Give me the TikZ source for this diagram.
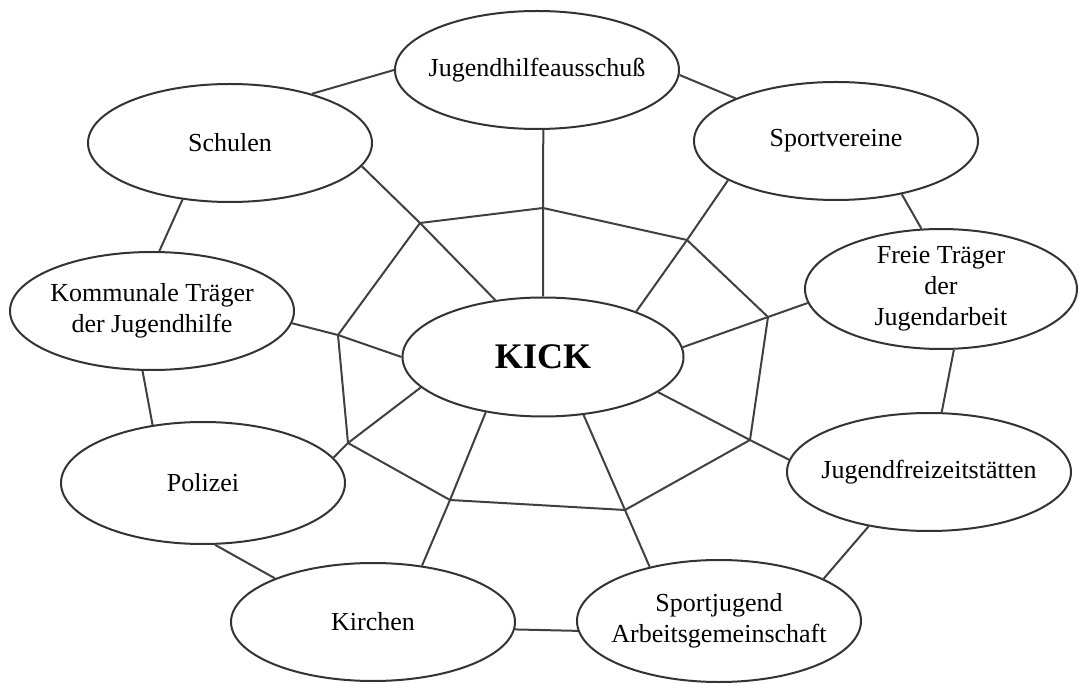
\documentclass[tikz,border=0pt]{standalone}
\usepackage{fontspec}
\setmainfont{Liberation Serif}
\usetikzlibrary{shapes.geometric}

\begin{document}
\begin{tikzpicture}[x=1pt,y=-1pt,
  partner/.style={ellipse,draw=black!80,line width=2pt,minimum width=284pt,minimum height=118pt,inner xsep=-30pt,inner ysep=0pt,align=center,font=\fontsize{26}{31}\selectfont},
  web/.style={draw=black!75,line width=2pt}]
\useasboundingbox (0,0) rectangle (1079,684);
\node[partner,minimum width=281pt,minimum height=119pt,font=\fontsize{36}{40}\selectfont\bfseries] (kick) at (543,357) {KICK};
\node[partner] (jha) at (537,70) {Jugendhilfeausschuß};
\node[partner] (sv) at (836,141) {Sportvereine};
\node[partner,minimum width=272pt] (ft) at (941,289) {Freie Träger\\der\\Jugendarbeit};
\node[partner] (jf) at (929,472) {Jugendfreizeitstätten};
\node[partner,minimum height=122pt] (sj) at (719,621) {Sportjugend\\Arbeitsgemeinschaft};
\node[partner] (ki) at (373,622) {Kirchen};
\node[partner,minimum height=122pt] (po) at (203,483) {Polizei};
\node[partner] (kt) at (152,311) {Kommunale Träger\\der Jugendhilfe};
\node[partner] (sc) at (230,143) {Schulen};
\coordinate (v0) at (543,208);
\coordinate (v1) at (420,223);
\coordinate (v2) at (338,335);
\coordinate (v3) at (348,443);
\coordinate (v4) at (450,500);
\coordinate (v5) at (625,510);
\coordinate (v6) at (750,440);
\coordinate (v7) at (768,317);
\coordinate (v8) at (687,240);
\draw[web] (v0) -- (v1) -- (v2) -- (v3) -- (v4) -- (v5) -- (v6) -- (v7) -- (v8) -- cycle;
\draw[web] (jha.-84) -- (v0) -- (kick.90);
\draw[web] (sc.-10) -- (v1) -- (kick.130);
\draw[web] (kt.-5) -- (v2) -- (kick.180);
\draw[web] (po.11) -- (v3) -- (kick.194);
\draw[web] (ki.49) -- (v4) -- (kick.224);
\draw[web] (sj.142) -- (v5) -- (kick.-55);
\draw[web] (jf.175) -- (v6) -- (kick.-17);
\draw[web] (ft.186) -- (v7) -- (kick.4);
\draw[web] (sv.200) -- (v8) -- (kick.26);
\draw[web] (sc.31) -- (jha.180);
\draw[web] (jha.-2) -- (sv.157);
\draw[web] (sv.-39) -- (ft.108);
\draw[web] (ft.-78) -- (jf.78);
\draw[web] (jf.222) -- (sj.22);
\draw[web] (sj.184) -- (ki.-3);
\draw[web] (ki.156) -- (po.-79);
\draw[web] (po.131) -- (kt.-99);
\draw[web] (kt.83) -- (sc.230);
\end{tikzpicture}
\end{document}
